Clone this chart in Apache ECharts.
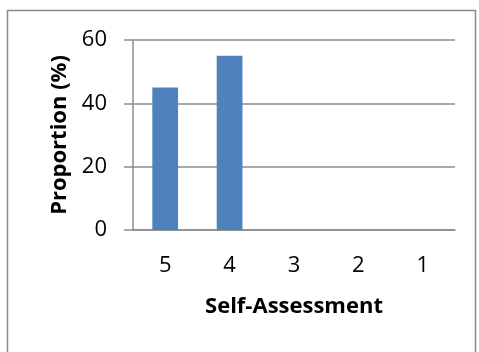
<!DOCTYPE html>
<html>
<head>
<meta charset="utf-8">
<script src="https://cdn.jsdelivr.net/npm/echarts@6/dist/echarts.min.js"></script>
<style>
  html, body { margin: 0; padding: 0; background: #fff; }
  #chart { width: 479px; height: 352px; }
</style>
</head>
<body>
<div id="chart"></div>
<script>
// Self-assessment scores and the share of respondents giving each
const categories = ['5', '4', '3', '2', '1'];
const proportions = [45, 55, 0, 0, 0];
const yTicks = [0, 20, 40, 60];

const FONT = '"Open Sans", "Noto Sans", sans-serif';
const GRID_GRAY = '#8c8c8c';

const chart = echarts.init(document.getElementById('chart'), null, { renderer: 'canvas' });
chart.setOption({
  animation: false,
  backgroundColor: '#ffffff',
  graphic: [{
    type: 'rect',
    shape: { x: 7.5, y: 10.5, width: 468, height: 400 },
    style: { fill: 'none', stroke: '#8a8a8a', lineWidth: 1.5 },
    silent: true
  }],
  grid: { left: 133, right: 24, top: 40, bottom: 122 },
  xAxis: {
    type: 'category',
    data: categories,
    name: 'Self-Assessment',
    nameLocation: 'middle',
    nameGap: 66,
    nameTextStyle: { fontFamily: FONT, fontSize: 22, fontWeight: 'bold', color: '#000' },
    axisLine: { show: true, lineStyle: { color: GRID_GRAY, width: 1.5 } },
    axisTick: { show: false },
    axisLabel: { fontFamily: FONT, fontSize: 22, color: '#000', margin: 25 }
  },
  yAxis: {
    type: 'value',
    min: yTicks[0],
    max: yTicks[yTicks.length - 1],
    interval: yTicks[1] - yTicks[0],
    name: 'Proportion (%)',
    nameLocation: 'middle',
    nameGap: 62,
    nameTextStyle: { fontFamily: FONT, fontSize: 22, fontWeight: 'bold', color: '#000' },
    axisLine: { show: true, lineStyle: { color: GRID_GRAY, width: 1.5 } },
    axisTick: { show: true, inside: false, length: 9, lineStyle: { color: GRID_GRAY, width: 1.5 } },
    axisLabel: { fontFamily: FONT, fontSize: 22, color: '#000', margin: 26 },
    splitLine: { show: true, lineStyle: { color: GRID_GRAY, width: 1.5 } }
  },
  series: [{
    type: 'bar',
    data: proportions,
    barWidth: '40%',
    itemStyle: { color: '#4f81bd' }
  }]
});
</script>
</body>
</html>
